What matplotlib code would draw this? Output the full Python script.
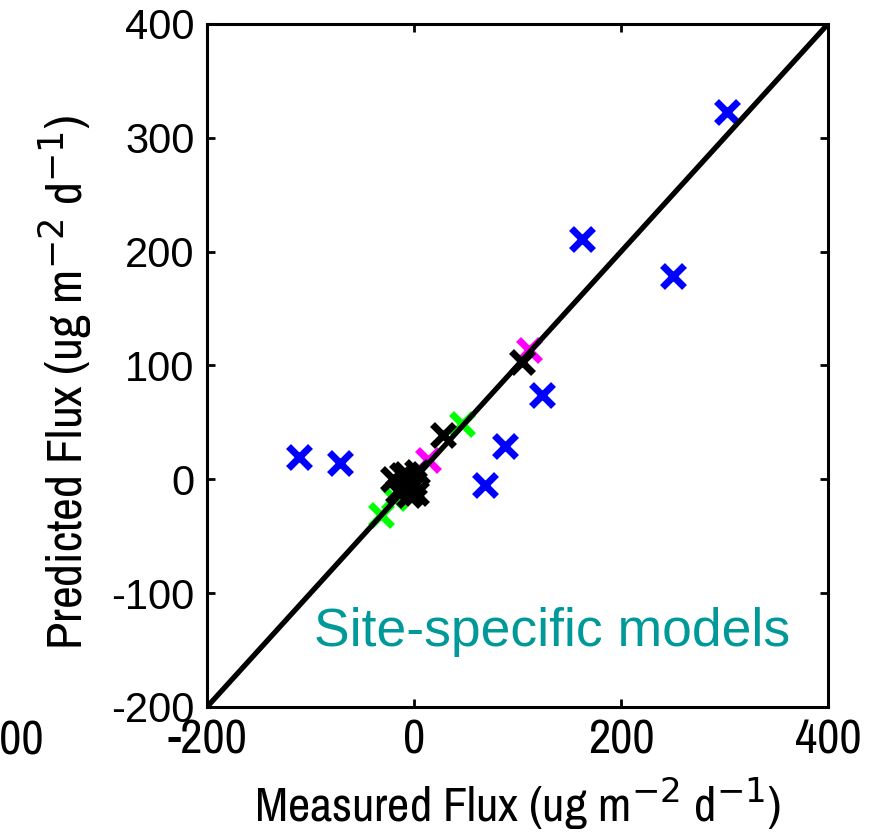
import matplotlib
matplotlib.use("Agg")
import matplotlib.pyplot as plt
from matplotlib import font_manager
from matplotlib.font_manager import FontProperties

# Measured vs predicted flux (ug m-2 d-1) for the site-specific models
blue_meas = [302, 162, 250, 124, 88, 69, -111, -71]
blue_pred = [323, 211, 179, 74, 29, -5, 20, 14]

magenta_meas = [111, 14]
magenta_pred = [114, 17]

green_meas = [46, -19, -32]
green_pred = [49, -16, -31]

black_meas = [104, 28, -20, -15, -8, -5, 0, 3, 2, -12, -3]
black_pred = [103, 39, 0, -10, 5, -14, -3, 6, -12, 4, -8]

one_to_one = [-200, 400]
ticks_x = [-200, 0, 200, 400]
ticks_y = [-200, -100, 0, 100, 200, 300, 400]


def narrow_font(size):
    """Pick a narrow / condensed sans face if one is installed."""
    files = [f for f in font_manager.fontManager.ttflist
             if f.style == "normal" and f.weight in (400, "normal", "regular")]
    for key in ("LiberationSansNarrow-Regular", "Narrow", "SansCondensed",
                "Condensed"):
        for f in files:
            if key in f.fname and "Bold" not in f.fname \
                    and "Oblique" not in f.fname and "Italic" not in f.fname \
                    and "Mono" not in f.fname and "Serif" not in f.fname:
                return FontProperties(fname=f.fname, size=size)
    return FontProperties(family="Liberation Sans", size=size)


fig = plt.figure(figsize=(8.77, 8.35), dpi=100)
ax = fig.add_axes([0.2360, 0.1533, 0.7081, 0.8180])

mk = dict(linestyle="none", marker="x", markersize=16, markeredgewidth=5)
ax.plot(blue_meas, blue_pred, color="#0000ff", **mk)
ax.plot(magenta_meas, magenta_pred, color="#ff00ff", **mk)
ax.plot(green_meas, green_pred, color="#00ff00", **mk)
ax.plot(black_meas, black_pred, color="black", **mk)
ax.plot(one_to_one, one_to_one, color="black", linewidth=3.8,
        solid_capstyle="butt")

ax.set_xlim(-200, 400)
ax.set_ylim(-200, 400)
ax.set_xticks(ticks_x)
ax.set_yticks(ticks_y)
ax.set_xticklabels([str(t) for t in ticks_x], fontproperties=narrow_font(35))
ax.set_yticklabels([str(t) for t in ticks_y], fontfamily="Liberation Sans",
                   fontsize=30)

for s in ax.spines.values():
    s.set_linewidth(2.2)
ax.tick_params(axis="both", direction="in", length=6, width=2,
               top=True, right=True)
ax.tick_params(axis="x", pad=8)
ax.tick_params(axis="y", pad=9)

ax.set_xlabel("Measured Flux (ug m$^{-2}$ d$^{-1}$)",
              fontproperties=narrow_font(35), labelpad=10)
ax.set_ylabel("Predicted Flux (ug m$^{-2}$ d$^{-1}$)",
              fontproperties=narrow_font(36))
ax.yaxis.set_label_coords(-0.182, 0.475)

ax.text(0.939, 0.11, "Site-specific models", transform=ax.transAxes,
        ha="right", va="center", color="#009999",
        fontfamily="Liberation Sans", fontsize=38.5)

# neighbouring panel's tick label, cut by the left edge
fig.text(0.050, 0.113, "400", ha="right", va="center",
         fontproperties=narrow_font(35))
# panel title, mostly above the top edge
fig.text(0.50, 1.016, "using regression coefficients", ha="center",
         va="center", fontfamily="Liberation Sans", fontsize=15,
         color="#555555")

fig.savefig("out.png", dpi=100)
